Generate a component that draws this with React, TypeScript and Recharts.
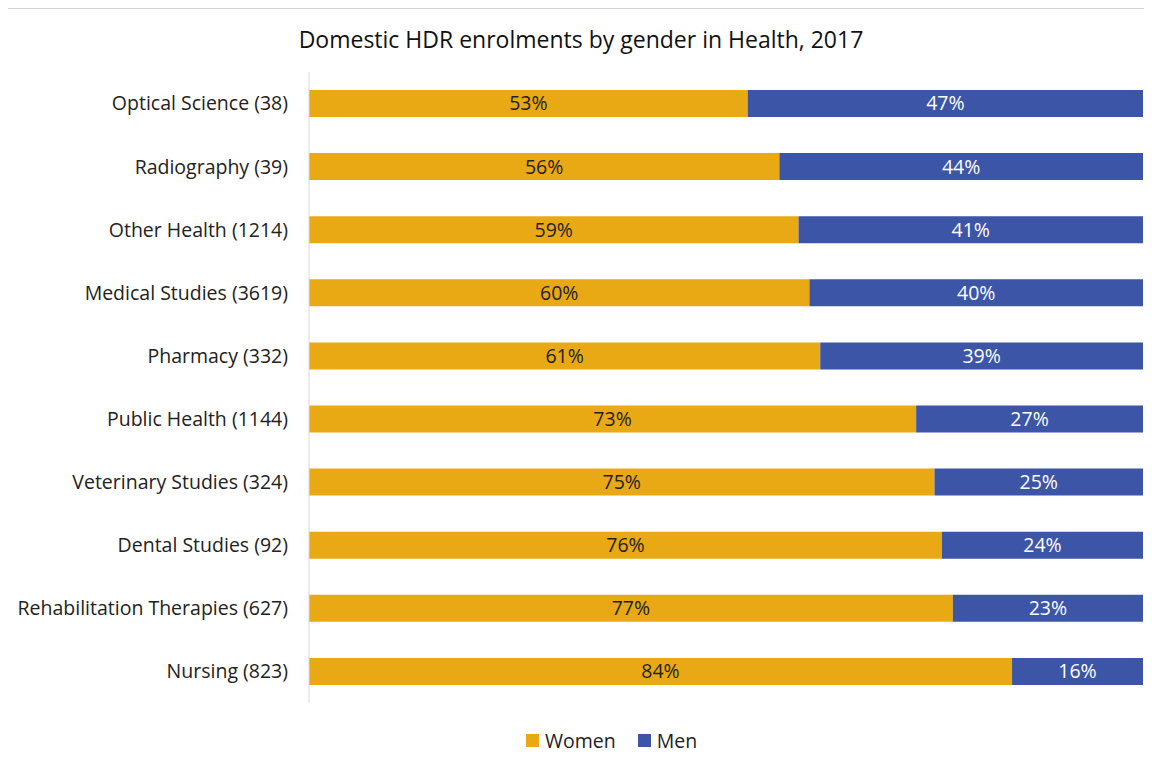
import React from "react";
import {
  BarChart,
  Bar,
  XAxis,
  YAxis,
  Legend,
  LabelList,
} from "recharts";

const categories = [
  "Optical Science (38)",
  "Radiography (39)",
  "Other Health (1214)",
  "Medical Studies (3619)",
  "Pharmacy (332)",
  "Public Health (1144)",
  "Veterinary Studies (324)",
  "Dental Studies (92)",
  "Rehabilitation Therapies (627)",
  "Nursing (823)",
];
// shares in %, labels show them rounded
const women = [52.6, 56.4, 58.7, 60.0, 61.3, 72.8, 75.0, 75.9, 77.2, 84.3];
const men = [47.4, 43.6, 41.3, 40.0, 38.7, 27.2, 25.0, 24.1, 22.8, 15.7];
const seriesOrder = ["women", "men"];

const WOMEN_COLOR = "#E8A915";
const MEN_COLOR = "#3C55A6";
const FONT = "'Open Sans', Lato, sans-serif";
const TEXT_SIZE = 19.5;

const data = categories.map((name, i) => ({
  name,
  women: women[i],
  men: men[i],
}));

const pct = (v: any) => `${Math.round(Number(v))}%`;

const LegendContent = (props: any) => {
  const items = [...(props.payload || [])].sort(
    (a: any, b: any) => seriesOrder.indexOf(a.dataKey) - seriesOrder.indexOf(b.dataKey)
  );
  return (
    <div style={{ display: "flex", alignItems: "center", fontFamily: FONT, fontSize: TEXT_SIZE, color: "#222" }}>
      {items.map((p: any) => (
        <div key={p.value} style={{ display: "flex", alignItems: "center", marginRight: 22 }}>
          <span style={{ width: 13, height: 13, background: p.color, display: "inline-block", marginRight: 6 }} />
          <span>{p.value}</span>
        </div>
      ))}
    </div>
  );
};

export default function App() {
  return (
    <div
      style={{
        position: "relative",
        width: 1144,
        height: 750,
        marginLeft: -1,
        borderTop: "1px solid #d4d4d4",
        borderLeft: "1px solid #d4d4d4",
        fontFamily: FONT,
      }}
    >
      <div
        style={{
          position: "absolute",
          top: 14,
          left: 0,
          width: 1146,
          textAlign: "center",
          fontSize: 23,
          color: "#111",
        }}
      >
        Domestic HDR enrolments by gender in Health, 2017
      </div>
      <BarChart
        width={1144}
        height={749}
        data={data}
        layout="vertical"
        margin={{ top: 63, right: 9, bottom: 28, left: 0 }}
        barCategoryGap={18}
      >
        <XAxis type="number" domain={[0, 100]} hide />
        <YAxis
          type="category"
          dataKey="name"
          width={301}
          axisLine={{ stroke: "#d9d9d9" }}
          tickLine={false}
          tickSize={0}
          tickMargin={21}
          tick={{ fontSize: TEXT_SIZE, fill: "#222", fontFamily: FONT }}
          interval={0}
        />
        <Legend
          verticalAlign="bottom"
          align="left"
          content={<LegendContent />}
          wrapperStyle={{ left: 518, bottom: 4 }}
        />
        <Bar dataKey="women" name="Women" stackId="a" fill={WOMEN_COLOR} barSize={27} isAnimationActive={false}>
          <LabelList dataKey="women" position="center" formatter={pct} fill="#222" fontSize={TEXT_SIZE} fontFamily={FONT} />
        </Bar>
        <Bar dataKey="men" name="Men" stackId="a" fill={MEN_COLOR} barSize={27} isAnimationActive={false}>
          <LabelList dataKey="men" position="center" formatter={pct} fill="#fff" fontSize={TEXT_SIZE} fontFamily={FONT} />
        </Bar>
      </BarChart>
    </div>
  );
}
